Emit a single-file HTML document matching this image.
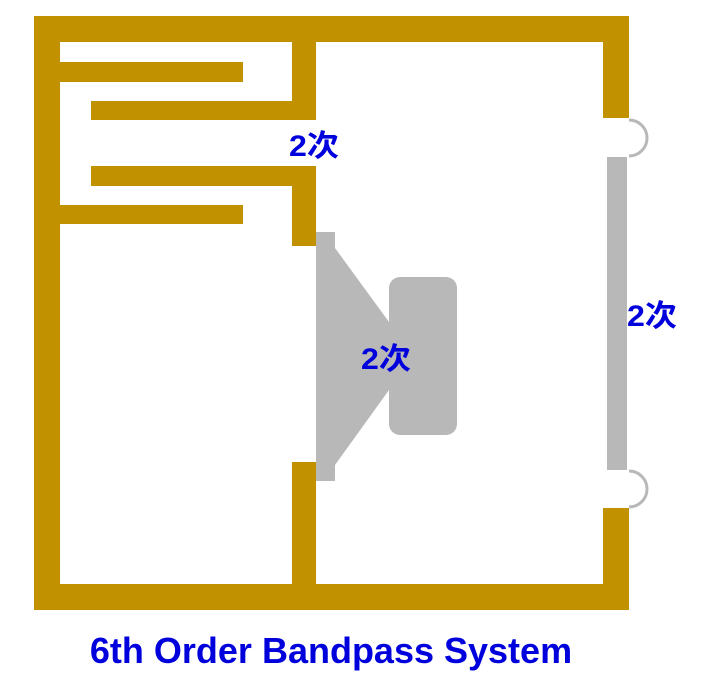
<!DOCTYPE html>
<html><head><meta charset="utf-8"><style>
html,body{margin:0;padding:0;background:#fff;width:707px;height:686px;overflow:hidden}
</style></head><body>
<svg width="707" height="686" viewBox="0 0 707 686" xmlns="http://www.w3.org/2000/svg">
<g fill="#c19100">
<rect x="34" y="16" width="595" height="26"/>
<rect x="34" y="584" width="595" height="26"/>
<rect x="34" y="16" width="26" height="594"/>
<rect x="603" y="16" width="26" height="102"/>
<rect x="603" y="508" width="26" height="102"/>
<rect x="292" y="42" width="24" height="78"/>
<rect x="91" y="101" width="225" height="19"/>
<rect x="292" y="166" width="24" height="80"/>
<rect x="91" y="166" width="225" height="20"/>
<rect x="292" y="462" width="24" height="122"/>
<rect x="60" y="62" width="183" height="20"/>
<rect x="60" y="205" width="183" height="19"/>
</g>
<g fill="#b8b8b8">
<polygon points="316,232 335,232 335,248 389,322 389,390 335,465 335,481 316,481"/>
<rect x="389" y="277" width="68" height="158" rx="11"/>
<rect x="607" y="157" width="20" height="313"/>
</g>
<g fill="none" stroke="#b8b8b8" stroke-width="3">
<path d="M629,120 A18,18 0 0 1 629,156"/>
<path d="M629,471 A18,18 0 0 1 629,507"/>
</g>
<g fill="#0000dd" font-family="Liberation Sans, Noto Sans CJK SC, sans-serif" font-weight="bold">
<text x="289" y="156" font-size="30" textLength="50" lengthAdjust="spacingAndGlyphs">2次</text>
<text x="361" y="369" font-size="30" textLength="50" lengthAdjust="spacingAndGlyphs">2次</text>
<text x="627" y="326" font-size="30" textLength="50" lengthAdjust="spacingAndGlyphs">2次</text>
<text x="331" y="663" font-size="36" text-anchor="middle">6th Order Bandpass System</text>
</g>
</svg>
</body></html>
